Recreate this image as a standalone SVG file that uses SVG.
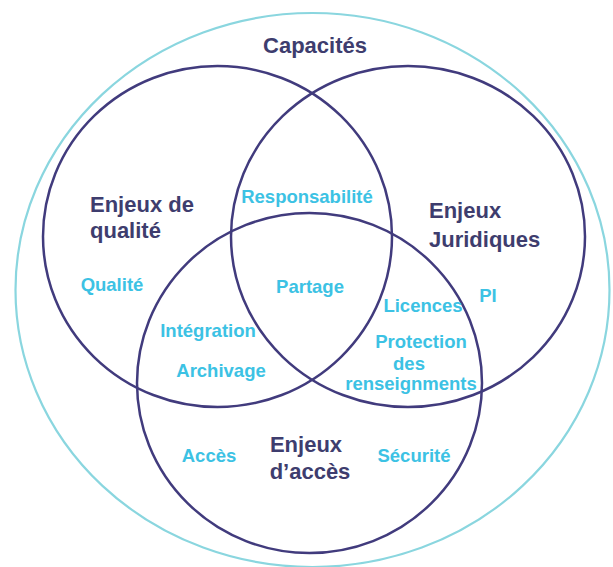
<svg xmlns="http://www.w3.org/2000/svg" width="613" height="567" viewBox="0 0 613 567">
  <style>
    .ring { fill: none; stroke: #413b7d; stroke-width: 2.5; }
    .outer { fill: none; stroke: #8ad6df; stroke-width: 2.2; }
    .title { font-family: "Liberation Sans", Arial, sans-serif; font-weight: bold; font-size: 22px; fill: #3e3d6e; }
    .item { font-family: "Liberation Sans", Arial, sans-serif; font-weight: bold; font-size: 18.5px; fill: #3cc2e4; text-anchor: middle; }
  </style>
  <rect width="613" height="567" fill="#ffffff"/>
  <g id="capacites">
    <ellipse class="outer" cx="312.5" cy="290" rx="297" ry="277"/>
    <text class="title" x="315" y="53" text-anchor="middle">Capacités</text>
  </g>
  <g id="enjeux-qualite">
    <ellipse class="ring" cx="217.5" cy="236.5" rx="174.5" ry="170.5"/>
    <text class="title" x="90" y="212">Enjeux de</text>
    <text class="title" x="90" y="238">qualité</text>
  </g>
  <g id="enjeux-juridiques">
    <ellipse class="ring" cx="408" cy="236.5" rx="177" ry="170.5"/>
    <text class="title" x="429" y="218">Enjeux</text>
    <text class="title" x="429" y="247">Juridiques</text>
  </g>
  <g id="enjeux-acces">
    <ellipse class="ring" cx="309.5" cy="383" rx="172.5" ry="170"/>
    <text class="title" x="306" y="452" text-anchor="middle">Enjeux</text>
    <text class="title" x="310" y="479" text-anchor="middle">d’accès</text>
  </g>
  <g id="connectors"></g>
  <g id="items">
    <text class="item" x="307" y="203">Responsabilité</text>
    <text class="item" x="310" y="293">Partage</text>
    <text class="item" x="112" y="291">Qualité</text>
    <text class="item" x="208" y="337">Intégration</text>
    <text class="item" x="221" y="377">Archivage</text>
    <text class="item" x="423" y="312">Licences</text>
    <text class="item" x="488" y="302">PI</text>
    <text class="item" x="421" y="348">Protection</text>
    <text class="item" x="409" y="370">des</text>
    <text class="item" x="411" y="390">renseignments</text>
    <text class="item" x="209" y="462">Accès</text>
    <text class="item" x="414" y="462">Sécurité</text>
  </g>
</svg>
